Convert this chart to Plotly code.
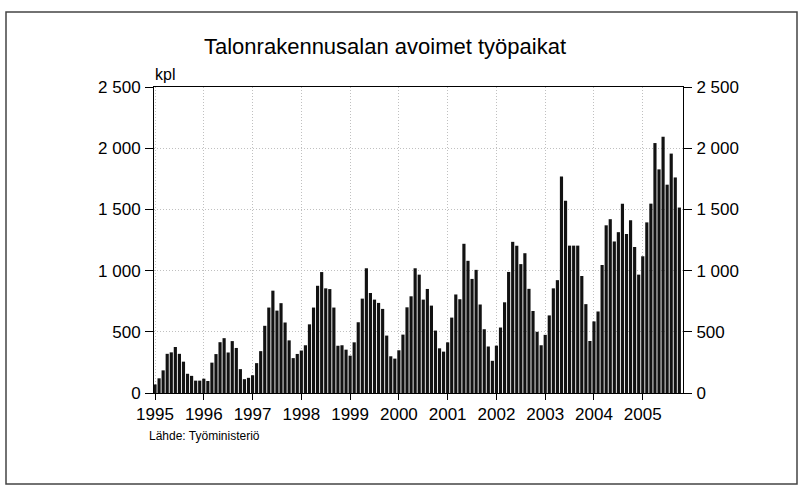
import plotly.graph_objects as go

# Monthly vacancies (kpl), Jan..Dec per year
v1995 = [70, 120, 185, 320, 332, 376, 320, 256, 157, 140, 101, 101]
v1996 = [117, 98, 248, 318, 415, 448, 331, 424, 368, 195, 113, 124]
v1997 = [145, 244, 342, 549, 698, 836, 673, 734, 576, 430, 285, 319]
v1998 = [347, 390, 561, 698, 876, 988, 855, 849, 698, 386, 390, 354]
v1999 = [305, 414, 578, 771, 1019, 817, 763, 736, 687, 469, 300, 281]
v2000 = [349, 477, 700, 790, 1019, 967, 763, 850, 714, 510, 365, 338]
v2001 = [414, 616, 805, 766, 1219, 1080, 932, 1006, 723, 521, 380, 263]
v2002 = [387, 535, 741, 989, 1235, 1203, 1053, 1142, 851, 670, 500, 390]
v2003 = [475, 634, 855, 922, 1769, 1571, 1204, 1204, 1204, 956, 726, 425]
v2004 = [585, 666, 1046, 1370, 1420, 1238, 1314, 1547, 1298, 1411, 1193, 967]
v2005 = [1117, 1394, 1547, 2042, 1827, 2094, 1702, 1956, 1761, 1515]

years = [1995, 1996, 1997, 1998, 1999, 2000, 2001, 2002, 2003, 2004, 2005]
year_labels = [str(y) for y in years]
y_tick_values = [0, 500, 1000, 1500, 2000, 2500]
y_tick_labels = ["0", "500", "1 000", "1 500", "2 000", "2 500"]

title_text = "Talonrakennusalan avoimet työpaikat"
unit_text = "kpl"
source_text = "Lähde: Työministeriö"

values = (v1995 + v1996 + v1997 + v1998 + v1999 + v2000 + v2001 + v2002
          + v2003 + v2004 + v2005)
x = list(range(len(values)))
year_positions = [12 * i for i in range(len(years))]

FONT = "Liberation Sans, Arial, sans-serif"

# plot area in pixels
L, R, T, B = 154, 683, 87, 393
W, H = 803, 491


def px(xp):
    return (xp - L) / (R - L)


def py(yp):
    return (B - yp) / (B - T)


fig = go.Figure()
fig.add_trace(go.Bar(x=x, y=values, marker=dict(color="#121212", line=dict(width=0)),
                     hoverinfo="y", showlegend=False))
# helper trace so the right-hand axis is drawn
fig.add_trace(go.Scatter(x=[x[0]], y=[values[0]], yaxis="y2", mode="markers",
                         marker=dict(opacity=0), hoverinfo="skip", showlegend=False))

axis_common = dict(
    showline=True, linecolor="black", linewidth=1,
    ticks="outside", tickcolor="black", tickwidth=1,
    tickfont=dict(family=FONT, size=17, color="black"),
    zeroline=False,
)

fig.update_layout(
    width=W, height=H, autosize=False,
    margin=dict(l=L, r=W - R, t=T, b=H - B, pad=0),
    paper_bgcolor="white", plot_bgcolor="white",
    bargap=0.22,
    font=dict(family=FONT, color="black"),
    xaxis=dict(range=[-0.25, 129.9], tickvals=year_positions, ticktext=year_labels,
               ticklen=6, mirror=True, showgrid=True, gridcolor="#c0c0c0",
               griddash="1px,2px", gridwidth=1, **axis_common),
    yaxis=dict(range=[0, 2500], tickvals=y_tick_values, ticktext=y_tick_labels,
               ticklen=8, showgrid=True, gridcolor="#c0c0c0", griddash="1px,2px",
               gridwidth=1, ticklabelstandoff=1, **axis_common),
    yaxis2=dict(range=[0, 2500], tickvals=y_tick_values, ticktext=y_tick_labels,
                overlaying="y", side="right", ticklen=8, showgrid=False,
                ticklabelstandoff=1, **axis_common),
)

fig.add_annotation(text=title_text, xref="paper", yref="paper",
                   x=px(385), y=py(46), xanchor="center", yanchor="middle",
                   showarrow=False,
                   font=dict(family=FONT, size=22, color="black"))
fig.add_annotation(text=unit_text, xref="paper", yref="paper",
                   x=px(153), y=py(75), xanchor="left", yanchor="middle",
                   showarrow=False, font=dict(family=FONT, size=16, color="black"))
fig.add_annotation(text=source_text, xref="paper", yref="paper",
                   x=px(147), y=py(436), xanchor="left", yanchor="middle",
                   showarrow=False, font=dict(family=FONT, size=12, color="black"))

# outer frame around the whole graphic
fig.add_shape(type="rect", xref="paper", yref="paper",
              x0=px(6), x1=px(797), y0=py(484), y1=py(12),
              line=dict(color="#444444", width=1.5), fillcolor="rgba(0,0,0,0)",
              layer="below")

fig.write_html("out.html", config={"displayModeBar": False},
               post_script="document.body.style.margin='0';document.body.style.padding='0';")
